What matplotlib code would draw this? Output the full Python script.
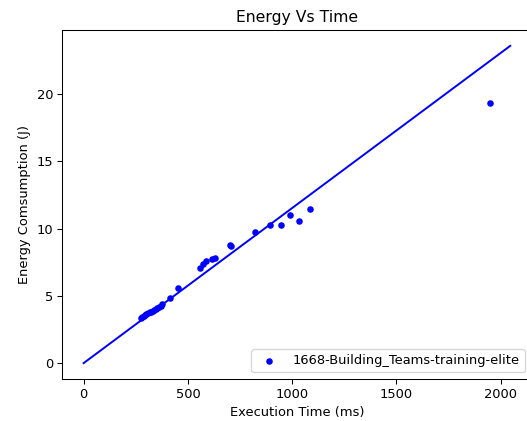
import numpy as np
import matplotlib
matplotlib.use("Agg")
import matplotlib.pyplot as plt

# execution time (ms) and energy (J)
exec_time = [273, 281, 289, 296, 301, 309, 316, 323, 331, 339, 346, 353, 361, 369, 376,
             415, 453, 556, 573, 589, 617, 630, 702, 705, 820, 892, 948, 988, 1034, 1084, 1950]
energy = [3.38, 3.45, 3.52, 3.58, 3.64, 3.70, 3.77, 3.83, 3.90, 3.98, 4.05, 4.12, 4.20, 4.28, 4.37,
          4.87, 5.60, 7.08, 7.38, 7.56, 7.72, 7.83, 8.78, 8.72, 9.78, 10.27, 10.27, 11.04, 10.60, 11.46, 19.33]

# fitted line endpoints
line_x = [0, 2046]
line_y = [0, 23.6]

fig = plt.figure(figsize=(527 / 94, 421 / 94), dpi=94)
ax = fig.add_axes([0.1182, 0.0998, 0.8905, 0.829])

ax.scatter(exec_time, energy, s=16, color='blue', label="1668-Building_Teams-training-elite")
ax.plot(line_x, line_y, color='blue')

ax.set_xlabel("Execution Time (ms)")
ax.set_ylabel("Energy Comsumption (J)")
ax.set_title("Energy Vs Time")
ax.legend(loc="lower right")

fig.savefig("out.png", dpi=94)
